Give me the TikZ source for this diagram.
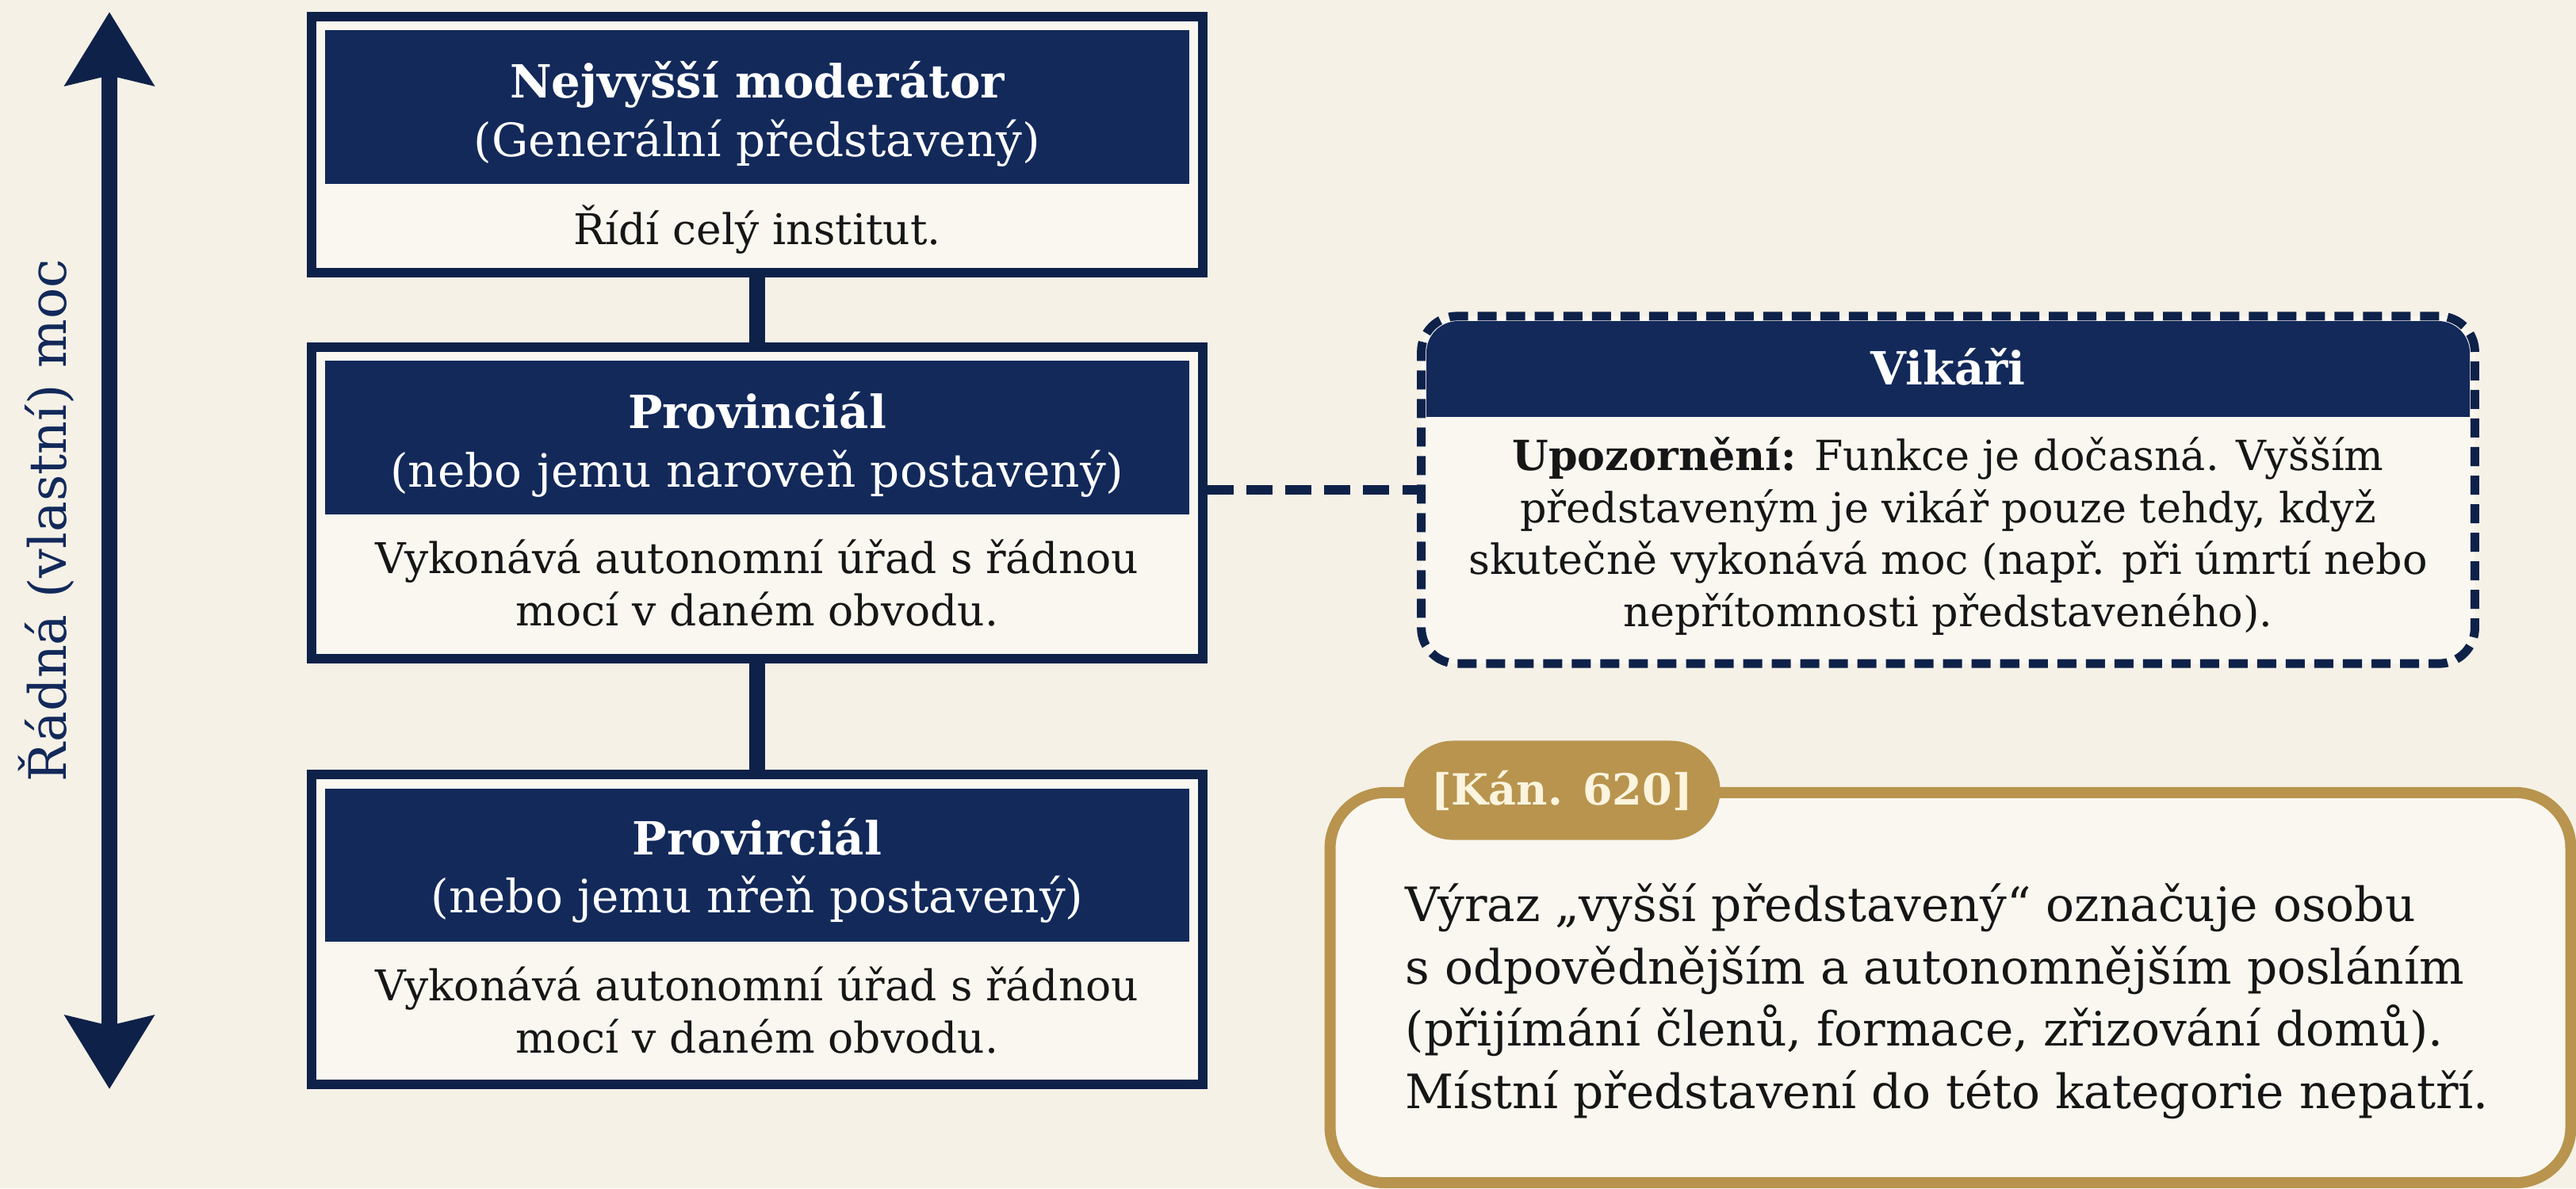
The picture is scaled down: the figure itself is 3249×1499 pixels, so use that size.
\documentclass[tikz,border=0pt]{standalone}
\usepackage{fontspec}
\setmainfont{DejaVu Serif}
\usetikzlibrary{arrows.meta,shapes.misc}
\definecolor{navy}{HTML}{12295A}
\definecolor{framenavy}{HTML}{0E2149}
\definecolor{paper}{HTML}{F5F1E6}
\definecolor{boxfill}{HTML}{F9F7F0}
\definecolor{gold}{HTML}{B8944E}
\definecolor{cream}{HTML}{FBF4DE}
\definecolor{ink}{HTML}{161616}
\begin{document}
\begin{tikzpicture}[x=0.01cm, y=-0.01cm,
  orgframe/.style={draw=framenavy, line width=0.12cm, fill=boxfill, minimum width=11.24cm, inner sep=0pt},
  orghead/.style={fill=navy, minimum width=10.90cm, inner sep=0pt},
  orgtitle/.style={anchor=base, inner sep=0pt, text=white, font=\fontsize{16.4}{19}\selectfont\bfseries},
  orgsub/.style={anchor=base, inner sep=0pt, text=white, font=\fontsize{16.5}{19}\selectfont},
  orgbody/.style={anchor=base, inner sep=0pt, text=ink, align=center, font=\fontsize{15.2}{18.5}\selectfont},
  vline/.style={draw=framenavy, line width=0.2cm},
  dashline/.style={draw=framenavy, line width=0.12cm, dash pattern=on 0.33cm off 0.16cm},
  vikbox/.style={draw=framenavy, line width=0.11cm, dash pattern=on 0.24cm off 0.12cm, fill=boxfill,
    rounded corners=0.45cm, minimum width=13.28cm, minimum height=4.38cm, inner sep=0pt},
  kanbox/.style={draw=gold, line width=0.14cm, fill=boxfill, rounded corners=0.7cm,
    minimum width=15.64cm, minimum height=4.92cm, inner sep=0pt},
  kantag/.style={rounded rectangle, fill=gold, text=cream, minimum width=3.99cm, minimum height=1.25cm,
    inner sep=0pt, font=\fontsize{15.4}{18}\selectfont\bfseries},
  ]
  \fill[paper] (0,0) rectangle (3249,1499);
  \useasboundingbox (0,0) rectangle (3249,1499);

  % left axis
  \coordinate (axtop) at (138,15);
  \coordinate (axbot) at (138,1374);
  \draw[framenavy, line width=0.2cm, {Stealth[length=0.92cm,width=1.1cm,inset=0.12cm]}-{Stealth[length=0.92cm,width=1.1cm,inset=0.12cm]}] (axbot) -- (axtop);
  \node[rotate=90, text=navy, font=\fontsize{18.5}{22}\selectfont] (axlabel) at (58,657) {Řádná (vlastní) moc};

  % top box
  \node[orgframe, minimum height=3.23cm] (top) at (955,182.5) {};
  \node[orghead, minimum height=1.94cm] (tophead) at (955,135) {};
  \node[orgtitle] (toptitle) at (955,123) {Nejvyšší moderátor};
  \node[orgsub] (topsub) at (955,197) {(Generální představený)};
  \node[orgbody] (topbody) at (955,308) {Řídí celý institut.};

  % middle box
  \node[orgframe, minimum height=3.93cm] (mid) at (955,634.5) {};
  \node[orghead, minimum height=1.94cm] (midhead) at (955,552) {};
  \node[orgtitle] (midtitle) at (955,540) {Provinciál};
  \node[orgsub] (midsub) at (955,614) {(nebo jemu naroveň postavený)};
  \node[orgbody] (midbody) at (955,789) {Vykonává autonomní úřad s řádnou\\ mocí v daném obvodu.};

  % bottom box
  \node[orgframe, minimum height=3.91cm] (bot) at (955,1172.5) {};
  \node[orghead, minimum height=1.93cm] (bothead) at (955,1091.5) {};
  \node[orgtitle] (bottitle) at (955,1078) {Provirciál};
  \node[orgsub] (botsub) at (955,1151) {(nebo jemu nřeň postavený)};
  \node[orgbody] (botbody) at (955,1328) {Vykonává autonomní úřad s řádnou\\ mocí v daném obvodu.};

  \draw[vline] (top.south) -- (mid.north);
  \draw[vline] (mid.south) -- (bot.north);

  % vicars
  \node[vikbox] (vik) at (2457,618) {};
  \begin{scope}
    \clip (1799,405) rectangle (3115,525);
    \fill[navy, rounded corners=0.4cm] (1799,405) rectangle (3115,600);
  \end{scope}
  \node[orgtitle] (viktitle) at (2457,485) {Vikáři};
  \node[orgbody, font=\fontsize{14.9}{18.6}\selectfont] (vikbody) at (2457,790)
    {\textbf{Upozornění:} Funkce je dočasná. Vyšším\\ představeným je vikář pouze tehdy, když\\
     skutečně vykonává moc (např. při úmrtí nebo\\ nepřítomnosti představeného).};
  \draw[dashline] (mid.east |- vik.west) -- (vik.west);

  % canon 620
  \node[kanbox] (kan) at (2460,1246) {};
  \node[kantag] (kantag) at (1970,997) {[Kán. 620]};
  \node[orgbody, anchor=base west, align=left, font=\fontsize{17}{22.3}\selectfont] (kanbody) at (1772,1398)
    {Výraz „vyšší představený“ označuje osobu\\ s odpovědnějším a autonomnějším posláním\\
     (přijímání členů, formace, zřizování domů).\\ Místní představení do této kategorie nepatří.};
\end{tikzpicture}
\end{document}
